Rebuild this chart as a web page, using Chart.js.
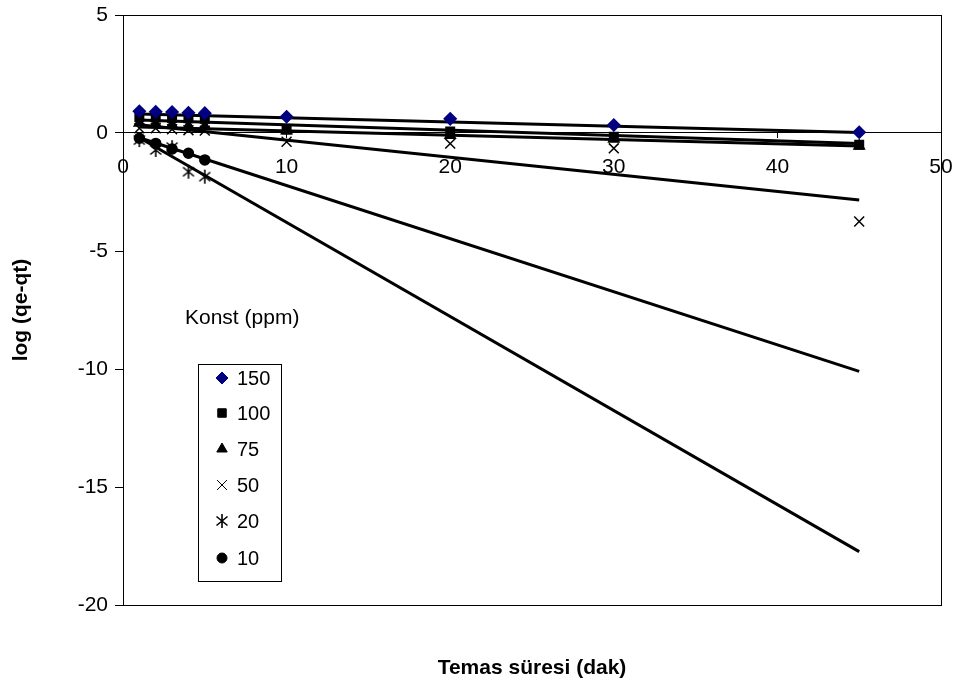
<!DOCTYPE html>
<html>
<head>
<meta charset="utf-8">
<script src="https://cdn.jsdelivr.net/npm/chart.js@4.4.1/dist/chart.umd.min.js"></script>
<style>
  html, body { margin: 0; padding: 0; background: #fff; }
  #wrap { width: 956px; height: 685px; }
</style>
</head>
<body>
<div id="wrap"><canvas id="chart" width="956" height="685"></canvas></div>
<script>
// contact time (min)
const times = [1, 2, 3, 4, 5, 10, 20, 30, 45];
const timesShort = [1, 2, 3, 4, 5];
const trendX = [1, 45];

// log(qe-qt) per concentration (ppm)
const c150 = [0.92, 0.9, 0.89, 0.86, 0.84, 0.69, 0.6, 0.34, 0.03];
const c100 = [0.68, 0.66, 0.64, 0.62, 0.6, 0.15, 0.06, -0.16, -0.5];
const c75 = [0.42, 0.38, 0.35, 0.3, 0.28, 0.1, -0.1, -0.25, -0.55];
const c50 = [0.2, 0.2, 0.16, 0.12, 0.1, -0.37, -0.45, -0.65, -3.75];
const c20 = [-0.3, -0.72, -0.6, -1.64, -1.85];
const c10 = [-0.22, -0.44, -0.68, -0.86, -1.14];

// linear trendlines, ends read at t=1 and t=45
const t150 = [0.8, 0.02];
const t100 = [0.55, -0.45];
const t75 = [0.25, -0.55];
const t50 = [0.35, -2.84];
const t20 = [-0.2, -17.74];
const t10 = [-0.2, -10.1];

const labels = ['150', '100', '75', '50', '20', '10'];
const yTicks = [5, 0, -5, -10, -15, -20];
const xTicks = [0, 10, 20, 30, 40, 50];

const FONT = "'Liberation Sans', Arial, sans-serif";

// asterisk marker: x plus a vertical bar
const star = (() => {
  const c = document.createElement('canvas');
  c.width = 16; c.height = 16;
  const g = c.getContext('2d');
  g.strokeStyle = '#000';
  g.lineWidth = 1.6;
  g.beginPath();
  g.moveTo(2.5, 3.5); g.lineTo(13.5, 12.5);
  g.moveTo(13.5, 3.5); g.lineTo(2.5, 12.5);
  g.moveTo(8, 1); g.lineTo(8, 15);
  g.stroke();
  return c;
})();

const pts = (xs, ys) => xs.map((x, i) => ({ x, y: ys[i] }));

const markerStyles = [
  { pointStyle: 'rectRot', radius: 6, color: '#000080' },
  { pointStyle: 'rect', radius: 6, color: '#000' },
  { pointStyle: 'triangle', radius: 6, color: '#000' },
  { pointStyle: 'crossRot', radius: 7, color: '#000' },
  { pointStyle: star, radius: 8, color: '#000' },
  { pointStyle: 'circle', radius: 5, color: '#000' },
];

const markerData = [
  pts(times, c150), pts(times, c100), pts(times, c75),
  pts(times, c50), pts(timesShort, c20), pts(timesShort, c10),
];
const trendData = [t150, t100, t75, t50, t20, t10].map((t) => pts(trendX, t));

const datasets = [];
markerData.forEach((data, i) => {
  const m = markerStyles[i];
  datasets.push({
    label: labels[i],
    data,
    showLine: false,
    pointStyle: m.pointStyle,
    pointRadius: m.radius,
    pointBackgroundColor: m.color,
    pointBorderColor: m.color,
    pointBorderWidth: 1.5,
  });
});
trendData.forEach((data, i) => {
  datasets.push({
    label: 'trend ' + labels[i],
    data,
    showLine: true,
    borderColor: '#000',
    borderWidth: 3,
    pointRadius: 0,
  });
});

const noPad = (s) => {
  s.paddingTop = 0; s.paddingBottom = 0;
  s.paddingLeft = 0; s.paddingRight = 0;
};

const decor = {
  id: 'decor',
  afterDraw(chart) {
    const { ctx, chartArea: a } = chart;
    ctx.save();
    // plot frame
    ctx.strokeStyle = '#000';
    ctx.lineWidth = 1;
    ctx.strokeRect(a.left + 0.5, a.top + 0.5, a.right - a.left, a.bottom - a.top);

    // axis titles
    ctx.fillStyle = '#000';
    ctx.font = 'bold 21px ' + FONT;
    ctx.textAlign = 'center';
    ctx.textBaseline = 'middle';
    ctx.fillText('Temas süresi (dak)', (a.left + a.right) / 2, 668);
    ctx.save();
    ctx.translate(21, (a.top + a.bottom) / 2);
    ctx.rotate(-Math.PI / 2);
    ctx.fillText('log (qe-qt)', 0, 0);
    ctx.restore();

    // legend
    ctx.font = '21px ' + FONT;
    ctx.textAlign = 'left';
    ctx.fillText('Konst (ppm)', 185, 318);
    ctx.strokeRect(198.5, 364.5, 83, 217);
    ctx.font = '20px ' + FONT;
    const rowY = [378, 413, 449, 485, 521, 558];
    markerStyles.forEach((m, i) => {
      ctx.fillStyle = m.color;
      ctx.strokeStyle = m.color;
      Chart.helpers.drawPoint(ctx, { pointStyle: m.pointStyle, radius: m.radius, borderWidth: 1.5 }, 222, rowY[i]);
      ctx.fillStyle = '#000';
      ctx.fillText(labels[i], 237, rowY[i] + 1);
    });
    ctx.restore();
  },
};

new Chart(document.getElementById('chart'), {
  type: 'scatter',
  data: { datasets },
  options: {
    responsive: false,
    animation: false,
    layout: { padding: { top: 15, right: 15, bottom: 80, left: 0 } },
    plugins: { legend: { display: false }, tooltip: { enabled: false } },
    scales: {
      x: {
        type: 'linear',
        position: { y: 0 },
        min: 0,
        max: 50,
        afterFit: noPad,
        afterBuildTicks: (s) => { s.ticks = xTicks.map((v) => ({ value: v })); },
        grid: { drawOnChartArea: false, tickLength: 5, color: '#000', tickColor: '#000' },
        border: { color: '#000', width: 1 },
        ticks: { color: '#000', padding: 17, maxRotation: 0, font: { family: FONT, size: 21 } },
      },
      y: {
        type: 'linear',
        min: -20,
        max: 5,
        afterFit: (s) => { s.width = 123; noPad(s); },
        afterBuildTicks: (s) => { s.ticks = yTicks.map((v) => ({ value: v })); },
        grid: { drawOnChartArea: false, tickLength: 8, color: '#000', tickColor: '#000' },
        border: { color: '#000', width: 1 },
        ticks: { color: '#000', padding: 7, font: { family: FONT, size: 21 } },
      },
    },
  },
  plugins: [decor],
});
</script>
</body>
</html>
